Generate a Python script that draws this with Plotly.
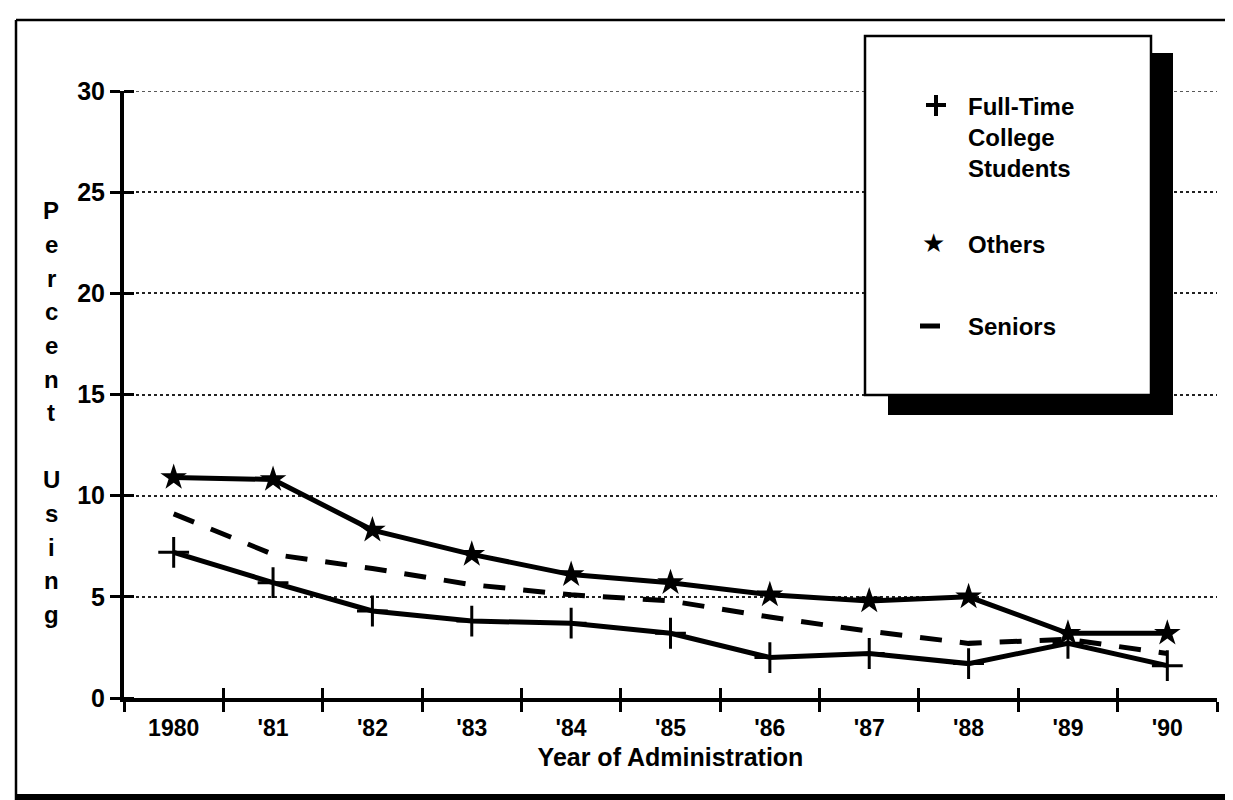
import plotly.graph_objects as go

# values
years = ["1980", "'81", "'82", "'83", "'84", "'85", "'86", "'87", "'88", "'89", "'90"]
full_time = [7.2, 5.7, 4.3, 3.8, 3.7, 3.2, 2.0, 2.2, 1.7, 2.7, 1.6]
others = [10.9, 10.8, 8.3, 7.1, 6.1, 5.7, 5.1, 4.8, 5.0, 3.2, 3.2]
seniors = [9.1, 7.1, 6.4, 5.6, 5.1, 4.8, 4.0, 3.3, 2.7, 2.9, 2.2]

series_names = ["Full-Time<br>College<br>Students", "Others", "Seniors"]
y_ticks = [0, 5, 10, 15, 20, 25, 30]
x_title = "Year of Administration"
y_title = "Percent Using"

W, H = 1233, 800
L, R, T, B = 116, 24, 83, 110

def px(x):
    return (x - L) / (W - L - R)

def py(y):
    return (H - B - y) / (H - T - B)

FONT = "Liberation Sans, Arial, sans-serif"

fig = go.Figure()
fig.add_trace(go.Scatter(
    x=years, y=full_time, mode="lines+markers", name="Full-Time College Students",
    line=dict(color="black", width=5),
    marker=dict(symbol="cross-thin", size=22, color="black", line=dict(color="black", width=3)),
))
fig.add_trace(go.Scatter(
    x=years, y=others, mode="lines+markers", name="Others",
    line=dict(color="black", width=5),
    marker=dict(symbol="star", size=20, color="black"),
))
fig.add_trace(go.Scatter(
    x=years, y=seniors, mode="lines", name="Seniors",
    line=dict(color="black", width=5, dash="22px,18px"),
))
# carrier for the second x axis (inner half of the crossing ticks)
fig.add_trace(go.Scatter(x=years, y=seniors, mode="none", xaxis="x2",
                         showlegend=False, hoverinfo="skip"))

xtickfont = dict(family=FONT, size=23, color="black", weight="bold")
ytickfont = dict(family=FONT, size=25, color="black", weight="bold")

fig.update_layout(
    width=W, height=H,
    margin=dict(l=L, r=R, t=T, b=B),
    paper_bgcolor="white", plot_bgcolor="white",
    showlegend=False,
    xaxis=dict(
        type="category", categoryorder="array", categoryarray=years,
        range=[-0.5, len(years) - 0.5],
        tickson="boundaries", ticks="outside", ticklen=10, tickwidth=3, tickcolor="black",
        showline=True, linewidth=4, linecolor="black", showgrid=False, zeroline=False,
        tickfont=xtickfont, ticklabelstandoff=6,
        title=dict(text=x_title, font=dict(family=FONT, size=25, color="black", weight="bold"),
                   standoff=10),
    ),
    xaxis2=dict(
        type="category", categoryorder="array", categoryarray=years,
        range=[-0.5, len(years) - 0.5], overlaying="x", anchor="y", side="bottom",
        tickson="boundaries", ticks="inside", ticklen=10, tickwidth=3, tickcolor="black",
        showticklabels=False, showline=False, showgrid=False, zeroline=False,
    ),
    yaxis=dict(
        range=[0, 30], tickvals=y_ticks, ticks="outside", ticklen=10, tickwidth=3,
        tickcolor="black", showline=True, linewidth=4, linecolor="black",
        showgrid=True, gridcolor="#222", gridwidth=1.5, griddash="dot", zeroline=False,
        tickfont=ytickfont,
        minor=dict(tickvals=y_ticks, ticks="inside", ticklen=10, tickwidth=3,
                   tickcolor="black", showgrid=False),
    ),
)

shapes = []
# top gridline at the last tick
shapes.append(dict(type="line", xref="paper", yref="y", x0=0, x1=1, y0=y_ticks[-1], y1=y_ticks[-1],
                   line=dict(color="#222", width=1.5, dash="dot"), layer="below"))
# outer frame: top and left edges, heavy bottom edge (right edge is cut off)
shapes.append(dict(type="line", xref="paper", yref="paper",
                   x0=px(8), x1=px(1233), y0=py(12), y1=py(12),
                   line=dict(color="black", width=2.5)))
shapes.append(dict(type="line", xref="paper", yref="paper",
                   x0=px(8), x1=px(8), y0=py(12), y1=py(792),
                   line=dict(color="black", width=2.5)))
shapes.append(dict(type="rect", xref="paper", yref="paper",
                   x0=px(8), x1=px(1233), y0=py(795), y1=py(786),
                   line=dict(width=0), fillcolor="black"))
# legend shadow and box
shapes.append(dict(type="rect", xref="paper", yref="paper",
                   x0=px(880), x1=px(1165), y0=py(407), y1=py(45),
                   line=dict(width=0), fillcolor="black", layer="above"))
shapes.append(dict(type="rect", xref="paper", yref="paper",
                   x0=px(857), x1=px(1143), y0=py(387), y1=py(28),
                   line=dict(color="black", width=2.5), fillcolor="white", layer="above"))
# legend symbols: cross and dash
shapes.append(dict(type="line", xref="paper", yref="paper",
                   x0=px(918), x1=px(938), y0=py(97), y1=py(97),
                   line=dict(color="black", width=4), layer="above"))
shapes.append(dict(type="line", xref="paper", yref="paper",
                   x0=px(928), x1=px(928), y0=py(87), y1=py(108),
                   line=dict(color="black", width=4), layer="above"))
shapes.append(dict(type="line", xref="paper", yref="paper",
                   x0=px(912), x1=px(932), y0=py(318), y1=py(318),
                   line=dict(color="black", width=5), layer="above"))
fig.update_layout(shapes=shapes)

legend_font = dict(family=FONT, size=24, color="black", weight="bold")
fig.add_annotation(x=px(958), y=py(83), xref="paper", yref="paper", text=series_names[0],
                   showarrow=False, xanchor="left", yanchor="top", align="left",
                   font=legend_font)
fig.add_annotation(x=px(958), y=py(236), xref="paper", yref="paper", text=series_names[1],
                   showarrow=False, xanchor="left", yanchor="middle", font=legend_font)
fig.add_annotation(x=px(958), y=py(318), xref="paper", yref="paper", text=series_names[2],
                   showarrow=False, xanchor="left", yanchor="middle", font=legend_font)
fig.add_annotation(x=px(925), y=py(235), xref="paper", yref="paper", text="★",
                   showarrow=False, xanchor="center", yanchor="middle",
                   font=dict(family="DejaVu Sans", size=26, color="black"))

# vertical stacked y title
for i, ch in enumerate(y_title):
    if ch == " ":
        continue
    fig.add_annotation(x=px(43), y=py(203 + i * 33.6), xref="paper", yref="paper", text=ch,
                       showarrow=False, xanchor="center", yanchor="middle",
                       font=dict(family=FONT, size=24, color="black", weight="bold"))

fig.write_html("out.html")
